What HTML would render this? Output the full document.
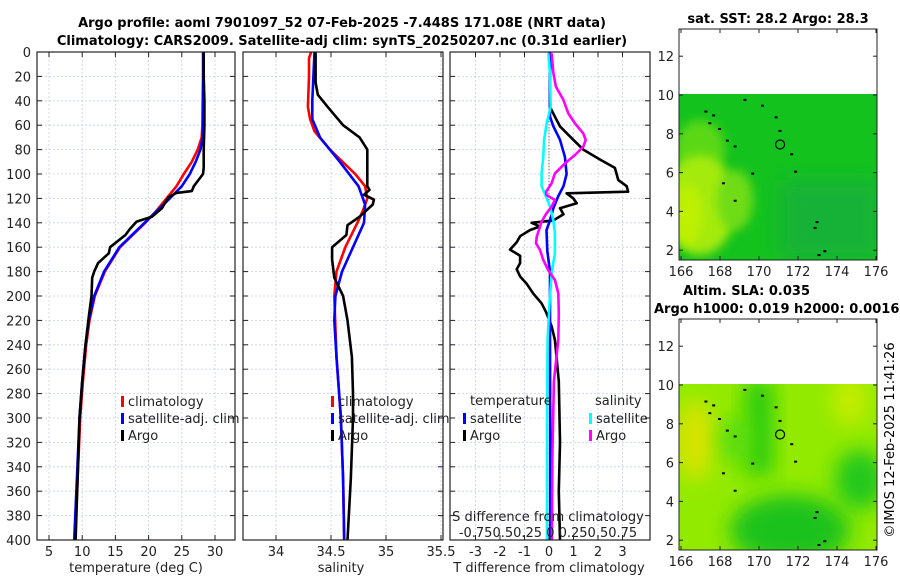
<!DOCTYPE html>
<html><head><meta charset="utf-8"><style>
html,body{margin:0;padding:0;background:#fff;}
svg{display:block;font-family:"DejaVu Sans","Liberation Sans",sans-serif;}
</style></head><body>
<svg id="fig" width="900" height="580" viewBox="0 0 900 580">
<defs>
<clipPath id="m1c"><rect x="679" y="94" width="198" height="166"/></clipPath>
<clipPath id="m2c"><rect x="679" y="384" width="198" height="166"/></clipPath>
<filter id="bl" x="-50%" y="-50%" width="200%" height="200%"><feGaussianBlur stdDeviation="10"/></filter>
<filter id="bl2" x="-50%" y="-50%" width="200%" height="200%"><feGaussianBlur stdDeviation="5"/></filter>
</defs>
<g font-weight="bold" font-size="13" text-anchor="middle">
<text x="342" y="27">Argo profile: aoml 7901097_52 07-Feb-2025 -7.448S 171.08E (NRT data)</text>
<text x="342" y="45">Climatology: CARS2009. Satellite-adj clim: synTS_20250207.nc (0.31d earlier)</text>
</g>
<g id="panels"></g>
<g id="maps">
<text x="778" y="23" font-size="13" font-weight="bold" text-anchor="middle">sat. SST: 28.2 Argo: 28.3</text>
<g clip-path="url(#m1c)">
<rect x="679" y="94" width="198" height="166" fill="#14c21e"/>
<rect x="780" y="180" width="100" height="80" fill="#12b238" filter="url(#bl)"/>
<ellipse cx="700" cy="150" rx="25" ry="30" fill="#5ad818" filter="url(#bl2)"/>
<ellipse cx="700" cy="205" rx="36" ry="50" fill="#a4ea10" filter="url(#bl2)"/>
<ellipse cx="735" cy="200" rx="18" ry="30" fill="#70dc14" filter="url(#bl2)"/>
<ellipse cx="688" cy="215" rx="14" ry="30" fill="#bef000" filter="url(#bl2)"/>
</g>
<rect x="679" y="29" width="198" height="231" fill="none" stroke="#222" stroke-width="1"/>
<text x="683" y="295" font-size="13" font-weight="bold">Altim. SLA: 0.035</text>
<text x="654" y="313" font-size="13" font-weight="bold">Argo h1000: 0.019 h2000: 0.0016</text>
<g clip-path="url(#m2c)">
<rect x="679" y="384" width="198" height="166" fill="#92ea00"/>
<rect x="745" y="380" width="28" height="95" fill="#2ccc10" filter="url(#bl)"/>
<ellipse cx="790" cy="530" rx="60" ry="35" fill="#1ec21e" filter="url(#bl)"/>
<ellipse cx="860" cy="480" rx="25" ry="30" fill="#22c81a" filter="url(#bl)"/>
<ellipse cx="695" cy="440" rx="22" ry="40" fill="#d2e400" filter="url(#bl)"/>
<ellipse cx="850" cy="400" rx="18" ry="25" fill="#c4ec00" filter="url(#bl)"/>
<ellipse cx="735" cy="440" rx="15" ry="25" fill="#56dc10" filter="url(#bl)"/>
</g>
<rect x="679" y="319" width="198" height="231" fill="none" stroke="#222" stroke-width="1"/>
<text transform="translate(894,440) rotate(-90)" font-size="13" text-anchor="middle">©IMOS 12-Feb-2025 11:41:26</text>
</g>
</svg>
<script>
// ---- temperature panel data ----
const tClimDepth=[0,20,40,60,70,80,90,100,110,120,130,140,160,180,200,220,240,270,300,350,400];
const tClimVal=[28.2,28.2,28.15,28.1,28.0,27.4,26.5,25.3,24.2,22.7,21.2,19.5,15.7,13.4,11.9,11.1,10.6,10.1,9.7,9.3,8.9];
const tSatDepth=[0,20,40,60,70,80,90,100,110,120,130,140,160,180,200,220,240,270,300,350,400];
const tSatVal=[28.25,28.25,28.2,28.2,28.15,27.8,27.1,26.2,25.0,23.2,21.3,19.4,15.6,13.3,11.8,11.0,10.5,10.0,9.6,9.2,8.8];
const tArgoDepth=[0,20,40,60,80,95,100,105,110,114,115.5,119,128,135,139,145,150,160,165,173,180,185,200,217,240,270,300,350,400];
const tArgoVal=[28.3,28.3,28.4,28.4,28.3,28.3,28.2,27.5,26.8,26.5,24.2,23.0,22.0,20.5,18.2,17.2,16.5,14.2,14.0,12.4,11.8,11.5,11.4,11.0,10.5,10.0,9.6,9.3,9.0];
// ---- salinity panel data ----
const sClimDepth=[0,5,20,45,55,65,80,100,110,120,130,140,160,180,200,250,300,350,400];
const sClimVal=[34.32,34.30,34.30,34.29,34.31,34.35,34.49,34.72,34.81,34.83,34.79,34.74,34.63,34.55,34.53,34.55,34.59,34.61,34.62];
const sSatDepth=[0,20,40,55,70,90,110,125,140,160,180,200,220,250,300,350,400];
const sSatVal=[34.35,34.34,34.33,34.33,34.40,34.58,34.75,34.81,34.80,34.70,34.60,34.54,34.53,34.55,34.59,34.61,34.62];
const sArgoDepth=[0,25,35,45,60,70,80,90,100,110,113,117,121,125,135,142,150,160,170,185,200,220,250,280,300,350,400];
const sArgoVal=[34.36,34.36,34.38,34.47,34.61,34.76,34.83,34.83,34.83,34.83,34.85,34.80,34.89,34.88,34.76,34.65,34.64,34.51,34.51,34.53,34.61,34.65,34.69,34.70,34.70,34.68,34.65];
// ---- difference panel data ----
const dTArgoDepth=[1,45,53,61,72,80,88,95,100,105,110,114.5,115.8,120,124,128,133,138,140,143,146,151,156,162,167,173,178,184,190,198,206,214,225,236,270,320,360,400];
const dTArgoVal=[0.04,0.04,0.24,0.45,0.99,1.4,2.07,2.69,2.76,2.83,3.17,3.23,0.72,0.99,1.13,0.45,0.59,0.18,-0.71,-0.37,-0.78,-1.18,-1.32,-1.59,-1.18,-1.18,-1.32,-1.18,-0.91,-0.64,-0.3,-0.1,0.11,0.24,0.4,0.45,0.4,0.45];
const dTSatDepth=[0,53,61,72,86,100,110,118,128,138,146,163,180,236,300,400];
const dTSatVal=[0.04,0.04,0.18,0.45,0.65,0.72,0.59,0.38,0.18,0.04,-0.1,-0.07,0.04,0.04,0.05,0.05];
const dSSatDepth=[1,17.5,44.8,58.5,72,86,99.5,110,118.6,126.8,137.7,148.6,165,181.5,208.8,236,300,400];
const dSSatVal=[-0.007,0.01,0.017,-0.024,-0.05,-0.058,-0.075,-0.075,-0.03,0.01,0.044,0.06,0.06,0.027,0.003,-0.014,-0.02,-0.02];
const dSArgoDepth=[1.1,17.5,28.4,39.3,50.3,58.5,66.7,72.1,77.6,84.4,91.3,99.5,107.7,114.5,117.2,121.3,126.8,132.2,139,143.2,151.4,156.8,162.3,170.5,178.7,186.9,197.8,214.2,236,270,330,400];
const dSArgoVal=[0.027,0.045,0.07,0.147,0.197,0.265,0.35,0.374,0.35,0.265,0.163,0.06,0.027,-0.03,-0.025,0.06,0.027,-0.025,-0.075,-0.092,-0.125,-0.133,-0.092,-0.058,-0.008,0.06,0.095,0.1,0.095,0.05,0.035,0.03];
// ---- ticks ----
const depthTicks=[0,20,40,60,80,100,120,140,160,180,200,220,240,260,280,300,320,340,360,380,400];
const tTicks=[5,10,15,20,25,30];
const sTicks=[34,34.5,35,35.5];
const dTicks=[-3,-2,-1,0,1,2,3];
const lonTicks=[166,168,170,172,174,176];
const latTicks=[2,4,6,8,10,12];

const NS='http://www.w3.org/2000/svg';
const fig=document.getElementById('panels');
const maps=document.getElementById('maps');
function mk(tag,attrs,parent){const e=document.createElementNS(NS,tag);for(const k in attrs)e.setAttribute(k,attrs[k]);(parent||fig).appendChild(e);return e;}
const Y0=52,Y1=540;
const yD=d=>Y0+d/400*(Y1-Y0);
function lin(d0,d1,r0,r1){return v=>r0+(v-d0)/(d1-d0)*(r1-r0);}
const xT=lin(5,30,49,215);
const xS=lin(34,35.5,276,441);
const xD=lin(0,1,549,573.5);
const xDS=v=>xD(v*4);
const panels=[{x0:37,x1:235,name:'temperature'},{x0:243,x1:443,name:'salinity'},{x0:450,x1:650,name:'difference'}];

function grid(p,xs,xf){
  xs.forEach(v=>{const l=mk('line',{x1:xf(v),x2:xf(v),y1:Y0,y2:Y1,stroke:'#c6cdee','stroke-width':0.8,'stroke-dasharray':'2,2'});
    });
  depthTicks.forEach(d=>{const l=mk('line',{x1:p.x0,x2:p.x1,y1:yD(d),y2:yD(d),stroke:'#c6cdee','stroke-width':0.8,'stroke-dasharray':'2,2'});
    
    const a=mk('line',{x1:p.x0,x2:p.x0+5,y1:yD(d),y2:yD(d),stroke:'#222'});
    
    const b=mk('line',{x1:p.x1-5,x2:p.x1,y1:yD(d),y2:yD(d),stroke:'#222'});
    });
  xs.forEach(v=>{const a=mk('line',{x1:xf(v),x2:xf(v),y1:Y1,y2:Y1-5,stroke:'#222'});
    
    const b=mk('line',{x1:xf(v),x2:xf(v),y1:Y0,y2:Y0+5,stroke:'#222'});
    
    const t=mk('text',{x:xf(v),y:556,'font-size':13,'text-anchor':'middle',fill:'#222'});t.textContent=String(v);
    });
}
function frame(p){const r=mk('rect',{x:p.x0,y:Y0,width:p.x1-p.x0,height:Y1-Y0,fill:'none',stroke:'#222','stroke-width':1.2});
  }
function line(ds,vs,xf,col,name,w){let s='';ds.forEach((d,i)=>{s+=(i?'L':'M')+xf(vs[i]).toFixed(1)+','+yD(d).toFixed(1);});
  const e=mk('path',{d:s,fill:'none',stroke:col,'stroke-width':w||2.6,'stroke-linejoin':'round'});
  }
function txt(x,y,s,name,anchor){const t=mk('text',{x:x,y:y,'font-size':13,fill:'#222','text-anchor':anchor||'start'});t.textContent=s;
  return t;}
function marker(x,y,col,name){const r=mk('rect',{x:x,y:y-10,width:3,height:11,fill:col});
  }

// panel 1
grid(panels[0],tTicks,xT);
depthTicks.forEach(d=>{txt(31,yD(d)+5,String(d),'depth-tick-label','end');});
line(tClimDepth,tClimVal,xT,'#f00','temp-climatology-line');
line(tSatDepth,tSatVal,xT,'#00f','temp-satellite-line');
line(tArgoDepth,tArgoVal,xT,'#000','temp-argo-line');
frame(panels[0]);
txt(136,572,'temperature (deg C)','temperature-axis-title','middle');
marker(121,406,'#f00','legend-climatology-marker');txt(128,406,'climatology','legend-climatology');
marker(121,423,'#00f','legend-satellite-marker');txt(128,423,'satellite-adj. clim','legend-satellite');
marker(121,440,'#000','legend-argo-marker');txt(128,440,'Argo','legend-argo');
// panel 2
grid(panels[1],sTicks,xS);
line(sClimDepth,sClimVal,xS,'#f00','sal-climatology-line');
line(sSatDepth,sSatVal,xS,'#00f','sal-satellite-line');
line(sArgoDepth,sArgoVal,xS,'#000','sal-argo-line');
frame(panels[1]);
txt(341,572,'salinity','salinity-axis-title','middle');
marker(331,406,'#f00','legend-sal-climatology-marker');txt(338,406,'climatology','legend-sal-climatology');
marker(331,423,'#00f','legend-sal-satellite-marker');txt(338,423,'satellite-adj. clim','legend-sal-satellite');
marker(331,440,'#000','legend-sal-argo-marker');txt(338,440,'Argo','legend-sal-argo');
// panel 3
grid(panels[2],dTicks,xD);
const z=mk('line',{x1:xD(0),x2:xD(0),y1:yD(15),y2:yD(125),stroke:'#444','stroke-width':1,'stroke-dasharray':'1,2'});

line(dTArgoDepth,dTArgoVal,xD,'#000','dt-argo-line');
line(dTSatDepth,dTSatVal,xD,'#00f','dt-satellite-line');
line(dSSatDepth,dSSatVal,xDS,'#0ff','ds-satellite-line');
line(dSArgoDepth,dSArgoVal,xDS,'#f0f','ds-argo-line');
frame(panels[2]);
txt(549,572,'T difference from climatology','tdiff-axis-title','middle');
txt(470,405,'temperature','legend-temperature-header');
marker(463,423,'#00f','legend-dt-satellite-marker');txt(470,423,'satellite','legend-dt-satellite');
marker(463,440,'#000','legend-dt-argo-marker');txt(470,440,'Argo','legend-dt-argo');
txt(595,405,'salinity','legend-salinity-header');
marker(589,423,'#0ff','legend-ds-satellite-marker');txt(596,423,'satellite','legend-ds-satellite');
marker(589,440,'#f0f','legend-ds-argo-marker');txt(596,440,'Argo','legend-ds-argo');
txt(548,521,'S difference from climatology','sdiff-axis-title','middle');
txt(548,537,'-0.750.50.25 0 0.250.50.75','sdiff-tick-labels','middle');

// maps axes
const xLon=lin(166,176,681,876);
function mapAxes(top,y10,bottom,name){
  const yLat=v=>y10+(10-v)*19.4;
  latTicks.forEach(v=>{const y=yLat(v);
    const t=mk('text',{x:674,y:y+5,'font-size':13,'text-anchor':'end',fill:'#222'},maps);t.textContent=String(v);
    
    const a=mk('line',{x1:679,x2:683,y1:y,y2:y,stroke:'#222'},maps);
    const b=mk('line',{x1:873,x2:877,y1:y,y2:y,stroke:'#222'},maps);});
  lonTicks.forEach(v=>{const x=xLon(v);
    const t=mk('text',{x:x,y:bottom+16,'font-size':13,'text-anchor':'middle',fill:'#222'},maps);t.textContent=String(v);
    
    const a=mk('line',{x1:x,x2:x,y1:bottom,y2:bottom-4,stroke:'#222'},maps);
    const b=mk('line',{x1:x,x2:x,y1:top,y2:top+4,stroke:'#222'},maps);});
  const specks=[[167.2,9.2],[167.6,9.0],[167.9,8.3],[168.3,7.7],[168.7,7.4],[169.6,6.0],[168.7,4.6],[168.1,5.5],[169.2,9.8],[170.1,9.5],[170.8,8.9],[171.0,8.2],[171.6,7.0],[171.8,6.1],[172.8,3.2],[173.0,1.8],[173.3,2.0],[172.9,3.5],[167.4,8.6]];
  specks.forEach(s=>{const r=mk('rect',{x:xLon(s[0]),y:yLat(s[1]),width:3,height:2,fill:'#000'},maps);
    });
  const c=mk('circle',{cx:xLon(171.08),cy:yLat(7.45),r:4.5,fill:'none',stroke:'#000','stroke-width':1.2},maps);
  
}
mapAxes(29,95,260,'sst-map');
mapAxes(319,385,550,'sla-map');
</script>
</body></html>
